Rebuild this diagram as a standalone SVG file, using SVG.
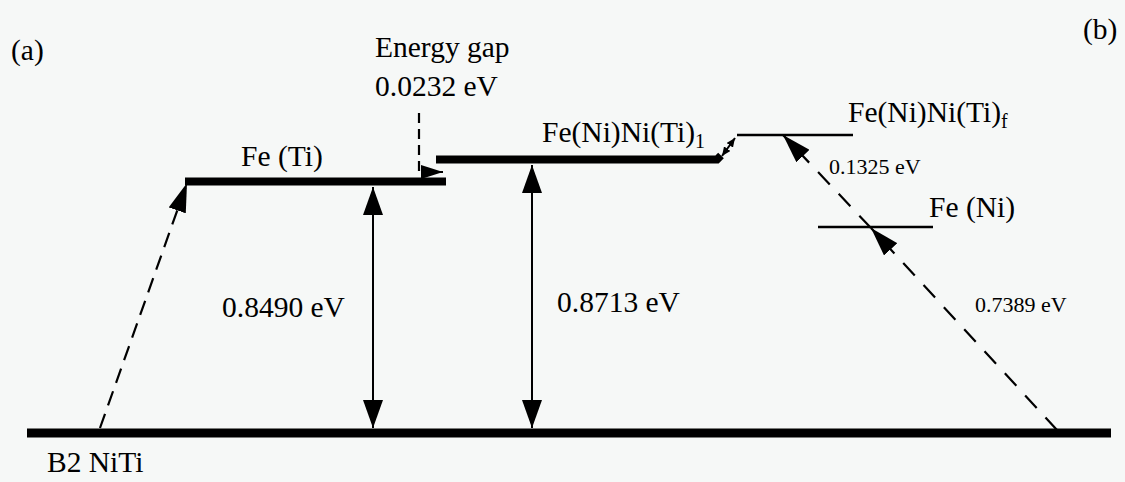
<svg xmlns="http://www.w3.org/2000/svg" width="1125" height="482" viewBox="0 0 1125 482">
<style>
  text { font-family: "Liberation Serif", "Times New Roman", serif; fill: #000; }
  .lbl { font-size: 29.5px; }
  .sm { font-size: 22px; }
  .sub { font-size: 20px; }
  .thick { stroke: #000; stroke-width: 8; fill: none; }
  .thin { stroke: #000; stroke-width: 2.5; fill: none; }
  .dim { stroke: #000; stroke-width: 2; fill: none; }
  .dash { stroke: #000; stroke-width: 2.2; fill: none; stroke-dasharray: 15 9; }
</style>
<defs>
  <marker id="bigArrow" markerUnits="userSpaceOnUse" viewBox="0 0 28 20" markerWidth="28" markerHeight="20" refX="28" refY="10" orient="auto-start-reverse">
    <path d="M0,0 L28,10 L0,20 z" fill="#000"/>
  </marker>
  <marker id="dashArrow" markerUnits="userSpaceOnUse" viewBox="0 0 29 18" markerWidth="29" markerHeight="18" refX="29" refY="9" orient="auto">
    <path d="M0,0 L29,9 L0,18 z" fill="#000"/>
  </marker>
  <marker id="gapArrow" markerUnits="userSpaceOnUse" viewBox="0 0 22 14" markerWidth="22" markerHeight="14" refX="22" refY="7" orient="auto">
    <path d="M0,0 L22,7 L0,14 z" fill="#000"/>
  </marker>
  <marker id="tinyArrow" markerUnits="userSpaceOnUse" viewBox="0 0 9 8" markerWidth="9" markerHeight="8" refX="9" refY="4" orient="auto-start-reverse">
    <path d="M0,0 L9,4 L0,8 z" fill="#000"/>
  </marker>
</defs>
<rect x="0" y="0" width="1125" height="482" fill="#f6f8f7"/>

<text class="lbl" x="11" y="60">(a)</text>
<text class="lbl" x="1083" y="39">(b)</text>

<g id="b2-niti">
  <line x1="27" y1="433" x2="1111" y2="433" stroke="#000" stroke-width="9"/>
  <text class="lbl" x="47" y="472">B2 NiTi</text>
</g>

<g id="fe-ti">
  <line class="thick" x1="185" y1="181.5" x2="446" y2="181.5"/>
  <text class="lbl" x="241" y="166">Fe (Ti)</text>
</g>

<g id="fe-ni-ni-ti-1">
  <path d="M436,159.5 H717 L721,155.5" class="thick"/>
  <text class="lbl" x="542" y="142">Fe(Ni)Ni(Ti)<tspan class="sub" dy="6">1</tspan></text>
</g>

<g id="fe-ni-ni-ti-f">
  <line class="thin" x1="737" y1="135" x2="853" y2="135"/>
  <text class="lbl" x="848" y="122">Fe(Ni)Ni(Ti)<tspan class="sub" dy="6">f</tspan></text>
</g>

<g id="fe-ni">
  <line class="thin" x1="818" y1="227" x2="933" y2="227"/>
  <text class="lbl" x="929" y="217">Fe (Ni)</text>
</g>

<g id="energy-gap-label">
  <text class="lbl" x="375" y="57">Energy gap</text>
  <text class="lbl" x="375" y="96">0.0232 eV</text>
</g>

<g id="connectors">
  <line class="dash" x1="100" y1="428" x2="187" y2="183" marker-end="url(#dashArrow)"/>
  <line class="dim" x1="373" y1="187" x2="373" y2="428" marker-start="url(#bigArrow)" marker-end="url(#bigArrow)"/>
  <line class="dim" x1="532" y1="165" x2="532" y2="428" marker-start="url(#bigArrow)" marker-end="url(#bigArrow)"/>
  <path class="dash" style="stroke-dasharray:10 6" d="M419,113 V172 H443" marker-end="url(#gapArrow)"/>
  <line class="dim" x1="722" y1="156" x2="735" y2="138" marker-start="url(#tinyArrow)" marker-end="url(#tinyArrow)"/>
  <line class="dash" style="stroke-dasharray:17 13" x1="1057" y1="430" x2="871" y2="228" marker-end="url(#dashArrow)"/>
  <line class="dash" style="stroke-dasharray:17 13" x1="871" y1="228" x2="783" y2="135" marker-end="url(#dashArrow)"/>
</g>

<g id="values">
  <text class="lbl" x="222" y="317">0.8490 eV</text>
  <text class="lbl" x="557" y="312">0.8713 eV</text>
  <text class="sm" x="829" y="174">0.1325 eV</text>
  <text class="sm" x="975" y="312">0.7389 eV</text>
</g>
</svg>
